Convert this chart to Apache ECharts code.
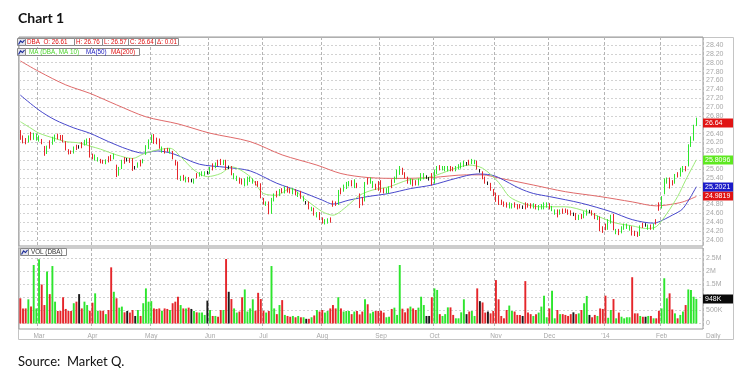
<!DOCTYPE html>
<html><head><meta charset="utf-8">
<script src="https://cdn.jsdelivr.net/npm/echarts@6/dist/echarts.min.js"></script>
<style>html,body{margin:0;padding:0;background:#fff}#c{width:750px;height:382px}</style>
</head><body><div id="c"></div>
<script>
// ---------------- DATA ----------------
const firstDay = '2013-02-20', lastDay = '2014-02-25';
const holidays = ['2013-03-29','2013-05-27','2013-07-04','2013-09-02','2013-11-28','2013-12-25','2014-01-01','2014-01-20','2014-02-17'];
const monthTickLabels = ['Mar','Apr','May','Jun','Jul','Aug','Sep','Oct','Nov','Dec',"'14",'Feb'];
const priceTicks = {min: 24.0, max: 28.4, step: 0.2};
const volumeTicks = {min: 0, max: 2500000, step: 500000};

// [open, close, low, high]
const candles = [
[26.44,26.30,26.26,26.48],[26.32,26.22,26.18,26.36],[26.26,26.20,26.16,26.30],[26.22,26.33,26.20,26.36],[26.40,26.28,26.25,26.44],
[26.30,26.38,26.26,26.42],[26.27,26.36,26.24,26.40],[26.26,26.33,26.22,26.36],[26.25,26.20,26.16,26.28],[26.08,25.95,25.90,26.12],
[25.97,26.10,25.94,26.13],[26.22,26.10,26.06,26.25],[26.18,26.30,26.15,26.33],[26.26,26.35,26.22,26.38],[26.36,26.30,26.27,26.40],
[26.34,26.28,26.25,26.37],[26.34,26.24,26.20,26.37],[26.20,26.05,26.02,26.23],[26.02,25.96,25.93,26.05],[25.99,25.97,25.94,26.02],
[25.98,26.08,25.95,26.11],[26.12,26.06,26.03,26.15],[26.10,26.10,26.06,26.14],[26.18,26.10,26.07,26.21],[26.16,26.22,26.13,26.26],
[26.18,26.26,26.15,26.29],[26.26,25.92,25.86,26.30],[25.92,25.85,25.82,25.95],[25.82,25.90,25.79,25.93],[25.80,25.84,25.77,25.87],
[25.80,25.76,25.73,25.83],[25.78,25.75,25.72,25.81],[25.74,25.79,25.71,25.82],[25.86,25.78,25.75,25.89],[25.88,25.82,25.78,25.92],
[25.85,25.92,25.82,25.95],[25.66,25.46,25.42,25.70],[25.48,25.62,25.45,25.65],[25.62,25.78,25.60,25.81],[25.84,25.76,25.72,25.87],
[25.81,25.81,25.77,25.85],[25.82,25.78,25.74,25.85],[25.82,25.60,25.56,25.85],[25.63,25.63,25.59,25.67],[25.66,25.72,25.63,25.75],
[25.78,25.70,25.66,25.81],[25.76,25.80,25.73,25.83],[25.95,26.10,25.92,26.14],[26.08,26.24,26.05,26.27],[26.22,26.34,26.19,26.38],
[26.36,26.20,26.17,26.39],[26.28,26.20,26.16,26.31],[26.26,26.10,26.06,26.29],[26.00,26.08,25.97,26.11],[26.04,25.98,25.95,26.07],
[26.05,26.02,25.99,26.08],[25.98,26.04,25.95,26.07],[25.98,25.86,25.82,26.01],[25.78,25.72,25.68,25.81],[25.74,25.40,25.36,25.77],
[25.36,25.42,25.33,25.45],[25.44,25.38,25.34,25.47],[25.33,25.40,25.30,25.43],[25.38,25.33,25.30,25.42],[25.34,25.34,25.30,25.38],
[25.30,25.36,25.27,25.39],[25.48,25.42,25.39,25.51],[25.46,25.50,25.43,25.53],[25.47,25.52,25.44,25.55],[25.48,25.52,25.45,25.55],
[25.52,25.52,25.48,25.56],[25.52,25.62,25.49,25.65],[25.70,25.60,25.57,25.73],[25.65,25.72,25.62,25.75],[25.78,25.70,25.67,25.81],
[25.80,25.72,25.69,25.83],[25.72,25.78,25.69,25.81],[25.78,25.62,25.58,25.81],[25.64,25.64,25.60,25.68],[25.64,25.50,25.46,25.67],
[25.40,25.48,25.37,25.51],[25.36,25.42,25.33,25.45],[25.38,25.30,25.27,25.41],[25.36,25.28,25.25,25.39],[25.24,25.36,25.21,25.39],
[25.26,25.40,25.23,25.43],[25.34,25.40,25.31,25.43],[25.30,25.36,25.27,25.39],[25.30,25.26,25.23,25.33],[25.30,25.24,25.20,25.33],
[25.24,24.98,24.94,25.28],[24.92,24.84,24.80,24.95],[24.80,24.84,24.77,24.87],[24.84,24.62,24.58,24.87],[24.62,24.92,24.59,24.95],
[24.90,25.02,24.87,25.05],[25.08,25.00,24.96,25.11],[25.02,25.12,24.99,25.15],[25.14,25.10,25.06,25.17],[25.08,25.18,25.05,25.21],
[25.18,25.10,25.07,25.21],[25.14,25.08,25.05,25.17],[25.06,25.14,25.03,25.17],[25.12,25.04,25.01,25.15],[25.00,25.06,24.97,25.09],
[25.08,24.96,24.93,25.11],[24.90,24.96,24.87,24.99],[24.84,24.84,24.80,24.88],[24.84,24.72,24.69,24.87],[24.68,24.72,24.65,24.75],
[24.70,24.58,24.55,24.73],[24.54,24.60,24.51,24.63],[24.60,24.48,24.45,24.63],[24.48,24.40,24.37,24.51],[24.38,24.44,24.35,24.47],
[24.40,24.46,24.37,24.49],[24.48,24.42,24.39,24.51],[24.86,24.78,24.75,24.89],[24.84,24.80,24.77,24.87],[24.82,25.10,24.79,25.13],
[25.14,25.06,25.03,25.17],[25.12,25.22,25.09,25.25],[25.18,25.28,25.15,25.31],[25.24,25.30,25.21,25.33],[25.32,25.24,25.21,25.35],
[25.20,25.34,25.17,25.37],[25.26,25.20,25.17,25.29],[25.02,24.84,24.72,25.05],[24.94,24.82,24.78,24.97],[24.90,25.28,24.87,25.31],
[25.38,25.28,25.25,25.41],[25.30,25.38,25.27,25.41],[25.20,25.30,25.17,25.33],[25.24,25.16,25.13,25.27],[25.30,25.14,25.11,25.33],
[25.32,25.10,25.07,25.35],[25.14,25.08,25.05,25.17],[25.08,25.14,25.05,25.17],[25.08,25.18,25.05,25.21],[25.34,25.20,25.17,25.37],
[25.32,25.40,25.29,25.43],[25.40,25.56,25.37,25.59],[25.50,25.64,25.47,25.67],[25.60,25.50,25.47,25.63],[25.50,25.42,25.39,25.53],
[25.40,25.30,25.27,25.43],[25.28,25.36,25.25,25.39],[25.34,25.24,25.21,25.37],[25.32,25.26,25.23,25.35],[25.26,25.36,25.23,25.39],
[25.36,25.48,25.33,25.51],[25.40,25.48,25.37,25.51],[25.42,25.42,25.38,25.46],[25.38,25.38,25.34,25.42],[25.48,25.26,25.23,25.51],
[25.30,25.56,25.27,25.59],[25.52,25.64,25.49,25.67],[25.66,25.60,25.57,25.69],[25.60,25.64,25.57,25.67],[25.58,25.64,25.55,25.67],
[25.58,25.64,25.55,25.67],[25.64,25.58,25.55,25.67],[25.62,25.58,25.55,25.65],[25.58,25.64,25.55,25.67],[25.62,25.68,25.59,25.71],
[25.64,25.72,25.61,25.75],[25.68,25.76,25.65,25.79],[25.72,25.72,25.68,25.76],[25.78,25.72,25.69,25.81],[25.74,25.80,25.71,25.83],
[25.74,25.78,25.71,25.81],[25.76,25.62,25.59,25.79],[25.56,25.56,25.52,25.60],[25.52,25.40,25.37,25.55],[25.40,25.30,25.27,25.43],
[25.28,25.28,25.24,25.32],[25.26,25.14,25.11,25.29],[25.12,25.02,24.99,25.15],[25.04,24.90,24.86,25.07],[24.98,24.82,24.79,25.01],
[24.88,24.82,24.79,24.91],[24.84,24.78,24.75,24.87],[24.82,24.76,24.73,24.85],[24.74,24.82,24.71,24.85],[24.74,24.80,24.71,24.83],
[24.82,24.76,24.73,24.85],[24.78,24.72,24.69,24.81],[24.78,24.74,24.71,24.81],[24.74,24.74,24.70,24.78],[24.82,24.72,24.69,24.85],
[24.80,24.76,24.73,24.83],[24.80,24.74,24.71,24.83],[24.74,24.80,24.71,24.83],[24.78,24.72,24.69,24.81],[24.70,24.76,24.67,24.79],
[24.72,24.78,24.69,24.81],[24.72,24.82,24.69,24.85],[24.76,24.82,24.73,24.85],[24.80,24.72,24.69,24.83],[24.68,24.74,24.65,24.77],
[24.60,24.66,24.57,24.69],[24.66,24.54,24.51,24.69],[24.60,24.66,24.57,24.69],[24.68,24.62,24.59,24.71],[24.68,24.64,24.61,24.71],
[24.66,24.60,24.57,24.69],[24.64,24.58,24.55,24.67],[24.58,24.58,24.54,24.62],[24.58,24.48,24.45,24.61],[24.48,24.54,24.45,24.57],
[24.56,24.50,24.47,24.59],[24.52,24.62,24.49,24.65],[24.58,24.66,24.55,24.69],[24.64,24.64,24.60,24.68],[24.64,24.58,24.55,24.67],
[24.58,24.50,24.47,24.61],[24.48,24.52,24.45,24.55],[24.50,24.24,24.20,24.53],[24.28,24.20,24.16,24.31],[24.34,24.26,24.22,24.37],
[24.26,24.44,24.23,24.47],[24.40,24.54,24.37,24.57],[24.56,24.26,24.22,24.59],[24.16,24.22,24.13,24.25],[24.22,24.14,24.11,24.25],
[24.18,24.28,24.15,24.31],[24.26,24.34,24.23,24.37],[24.28,24.34,24.25,24.37],[24.24,24.30,24.21,24.33],[24.28,24.14,24.10,24.31],
[24.18,24.12,24.09,24.21],[24.16,24.10,24.07,24.19],[24.12,24.30,24.09,24.33],[24.36,24.30,24.27,24.39],[24.34,24.34,24.30,24.38],
[24.26,24.32,24.23,24.35],[24.32,24.26,24.23,24.35],[24.26,24.34,24.23,24.37],[24.44,24.38,24.35,24.47],[24.82,24.70,24.66,24.85],
[24.74,24.96,24.71,24.99],[25.06,25.36,25.03,25.39],[25.30,25.38,25.27,25.41],[25.38,25.20,25.16,25.41],[25.32,25.26,25.23,25.35],
[25.30,25.46,25.27,25.49],[25.50,25.44,25.41,25.53],[25.46,25.60,25.43,25.63],[25.56,25.64,25.53,25.67],[25.64,25.58,25.55,25.67],
[25.70,26.12,25.66,26.16],[26.14,26.30,26.10,26.34],[26.28,26.56,26.24,26.60],[26.61,26.64,26.57,26.76]
];

// daily volume (shares)
const volumes = [
970000,580000,580000,930000,650000,2250000,580000,2470000,1500000,710000,
2000000,1130000,2210000,840000,480000,480000,1010000,560000,480000,480000,
780000,840000,1130000,580000,840000,710000,490000,800000,1160000,490000,
490000,490000,360000,520000,2160000,1220000,970000,610000,650000,430000,
480000,420000,520000,290000,520000,290000,780000,1350000,840000,860000,
580000,560000,580000,490000,580000,560000,520000,780000,840000,1030000,
710000,580000,580000,610000,560000,480000,430000,420000,420000,330000,
880000,520000,290000,290000,260000,520000,520000,2480000,1220000,940000,
580000,420000,460000,1010000,1310000,460000,580000,930000,490000,1180000,
940000,490000,420000,480000,2210000,580000,360000,710000,900000,330000,
290000,260000,290000,240000,290000,240000,240000,180000,180000,240000,
310000,520000,460000,520000,420000,480000,580000,710000,580000,1010000,
580000,460000,480000,480000,360000,460000,480000,350000,460000,930000,
740000,390000,450000,480000,480000,490000,420000,240000,260000,560000,
610000,330000,2250000,570000,430000,580000,650000,580000,520000,610000,
1030000,710000,290000,290000,1010000,1350000,1290000,360000,290000,360000,
620000,620000,330000,200000,200000,430000,930000,360000,460000,480000,
290000,1350000,860000,810000,420000,460000,390000,480000,1670000,930000,
290000,200000,520000,690000,480000,460000,330000,330000,290000,1630000,
420000,360000,290000,360000,420000,650000,1070000,240000,580000,1260000,
200000,520000,360000,360000,330000,290000,360000,430000,360000,390000,
520000,780000,1060000,330000,240000,330000,290000,580000,560000,1070000,
220000,520000,940000,200000,420000,260000,200000,240000,240000,1780000,
390000,390000,290000,260000,260000,290000,290000,200000,200000,490000,
580000,1740000,970000,1160000,540000,390000,200000,330000,460000,710000,
1310000,1290000,1030000,948000
];

// moving averages: [day index, value]
const ma10 = [[0,26.67],[4,26.52],[7,26.41],[13,26.29],[17,26.22],[22,26.19],[26,26.12],[30,26.05],[36,25.92],[42,25.84],[46,25.94],[51,26.03],[56,26.07],[60,25.88],[65,25.58],[70,25.43],[75,25.50],[79,25.65],[86,25.43],[91,25.05],[96,25.01],[101,25.16],[107,24.90],[113,24.64],[117,24.56],[122,24.75],[127,25.01],[132,25.13],[138,25.20],[145,25.35],[151,25.39],[156,25.47],[163,25.62],[168,25.69],[173,25.62],[179,25.30],[183,24.98],[188,24.83],[194,24.75],[204,24.75],[212,24.64],[218,24.49],[223,24.38],[229,24.32],[234,24.26],[238,24.30],[242,24.60],[246,24.98],[249,25.35],[253,25.8096]];
const ma50 = [[0,27.27],[7,26.93],[13,26.71],[20,26.53],[26,26.41],[33,26.22],[40,26.05],[46,25.96],[51,26.01],[57,25.95],[67,25.71],[77,25.64],[86,25.56],[96,25.28],[105,25.09],[113,24.90],[117,24.81],[123,24.90],[130,24.98],[138,25.05],[146,25.16],[154,25.24],[163,25.39],[171,25.49],[176,25.47],[179,25.41],[187,25.16],[192,25.05],[198,24.98],[210,24.83],[221,24.64],[229,24.46],[237,24.38],[239,24.41],[244,24.56],[248,24.71],[253,25.2021]];
const ma200 = [[0,28.04],[7,27.80],[17,27.50],[26,27.31],[36,27.05],[47,26.78],[59,26.62],[71,26.41],[86,26.22],[98,25.92],[111,25.69],[120,25.50],[130,25.41],[142,25.39],[154,25.41],[167,25.47],[173,25.47],[179,25.40],[192,25.24],[204,25.09],[217,24.98],[229,24.86],[238,24.77],[242,24.79],[248,24.86],[253,24.9819]];
const legendDelta = '0.01';

// ---------------- BUILD ----------------
const dates = [];
for (let d = new Date(firstDay + 'T00:00:00Z'); d <= new Date(lastDay + 'T00:00:00Z'); d.setUTCDate(d.getUTCDate() + 1)) {
  const dow = d.getUTCDay();
  if (dow === 0 || dow === 6) continue;
  const s = d.toISOString().slice(0, 10);
  if (holidays.indexOf(s) >= 0) continue;
  dates.push(s);
}
const monthStart = {};
let mk = 0;
for (let i = 1; i < dates.length; i++) {
  if (dates[i].slice(0, 7) !== dates[i - 1].slice(0, 7)) monthStart[i] = monthTickLabels[mk++];
}
const isMonthStart = (i) => Object.prototype.hasOwnProperty.call(monthStart, i);

const UP = '#2ee52e', DOWN = '#e5262b', FLAT = '#1a1a1a';
const volData = volumes.map((v, i) => {
  const c = candles[i];
  const col = c[1] > c[0] ? UP : (c[1] < c[0] ? DOWN : FLAT);
  return {value: v, itemStyle: {color: col}};
});
const last = candles[candles.length - 1];
const lastVol = volumes[volumes.length - 1];

const FONT = 'Liberation Sans';
const L = 19, W = 684;

function frameX(gi, labels) {
  return {
    type: 'category', gridIndex: gi, data: dates, boundaryGap: true,
    axisLine: {show: false}, axisTick: {show: false},
    axisLabel: labels ? {show: true, interval: (i) => isMonthStart(i), formatter: (v, i) => monthStart[i] || '',
      fontSize: 6.5, color: '#a8a8a8', margin: 4, fontFamily: FONT} : {show: false},
    splitLine: {show: true, interval: (i) => isMonthStart(i), lineStyle: {color: '#b4b4b4', type: [3, 2], width: 1}}
  };
}

const txt = (x, y, s, color, size, extra) => Object.assign({type: 'text', x: x, y: y, silent: true, z: 100,
  style: Object.assign({text: s, fill: color, fontSize: size || 7, fontFamily: FONT, verticalAlign: 'middle'}, extra || {})});
const box = (x, y, w, h, fill, stroke) => ({type: 'rect', silent: true, z: 99, shape: {x: x, y: y, width: w, height: h},
  style: {fill: fill || '#fff', stroke: stroke || '#8a8a8a', lineWidth: 1}});
const icon = (x, y) => ([
  box(x, y, 8, 7, '#e4e4ec', '#8a8a8a'),
  {type: 'polyline', silent: true, z: 100, shape: {points: [[x + 1, y + 6], [x + 3, y + 2.5], [x + 5, y + 4], [x + 7, y + 1.5]]},
   style: {stroke: '#1f2f9a', lineWidth: 1.2, fill: 'none'}}
]);

const row1 = ['DBA  O: ' + last[0].toFixed(2), 'H: ' + last[3].toFixed(2), 'L: ' + last[2].toFixed(2), 'C: ' + last[1].toFixed(2), 'Δ: ' + legendDelta];
const row1Edges = [25.5, 74.5, 102.5, 128.5, 155.5, 178.5];
const graphics = [
  Object.assign(box(18.5, 37.5, 715, 302, 'none', '#c4c4c4'), {z: -10}),
  ...icon(17.5, 38.5),
  ...icon(17.5, 48.5),
  ...icon(20.5, 248.5),
];
for (let i = 0; i < row1.length; i++) {
  graphics.push(box(row1Edges[i], 38.5, row1Edges[i + 1] - row1Edges[i], 7));
  graphics.push(txt(row1Edges[i] + 1.5, 42.5, row1[i], '#e01010', 6.3));
}
graphics.push(box(25.5, 48.5, 114, 7));
graphics.push(txt(29, 52.5, 'MA (DBA, MA 10)', '#4cd42c', 6.3));
graphics.push(txt(86, 52.5, 'MA(50)', '#2020c0', 6.3));
graphics.push(txt(111, 52.5, 'MA(200)', '#e01010', 6.3));
graphics.push(box(28.5, 248.5, 38, 7));
graphics.push(txt(31, 252.5, 'VOL (DBA)', '#333', 6.3));
graphics.push(txt(706, 336.5, 'Daily', '#a8a8a8', 6.5));
graphics.push(txt(18, 18, 'Chart 1', '#111', 14, {fontFamily: 'Lato', fontWeight: 'bold'}));
graphics.push(txt(18, 362, 'Source:  Market Q.', '#111', 13, {fontFamily: 'Lato'}));

const option = {
  animation: false,
  backgroundColor: '#fff',
  textStyle: {fontFamily: FONT},
  grid: [
    {left: L, width: W, top: 37, height: 209, show: true, borderColor: '#9a9a9a', borderWidth: 1, backgroundColor: 'transparent', outerBoundsMode: 'none'},
    {left: L, width: W, top: 45, height: 195, outerBoundsMode: 'none'},
    {left: L, width: W, top: 248, height: 81, show: true, borderColor: '#9a9a9a', borderWidth: 1, backgroundColor: 'transparent', outerBoundsMode: 'none'},
    {left: L, width: W, top: 258.5, height: 65, outerBoundsMode: 'none'}
  ],
  xAxis: [
    frameX(0, false),
    {type: 'category', gridIndex: 1, data: dates, boundaryGap: true, show: false},
    frameX(2, true),
    {type: 'category', gridIndex: 3, data: dates, boundaryGap: true, show: false}
  ],
  yAxis: [
    {type: 'value', gridIndex: 0, show: false, splitLine: {show: false}},
    {type: 'value', gridIndex: 1, position: 'right', min: priceTicks.min, max: priceTicks.max, interval: priceTicks.step,
     axisLine: {show: false}, axisTick: {show: false},
     axisLabel: {formatter: (v) => v.toFixed(2), fontSize: 7, color: '#a8a8a8', margin: 3, fontFamily: FONT},
     splitLine: {show: true, lineStyle: {color: '#d2d2d2', type: [2, 2], width: 1}}},
    {type: 'value', gridIndex: 2, show: false, splitLine: {show: false}},
    {type: 'value', gridIndex: 3, position: 'right', min: volumeTicks.min, max: volumeTicks.max, interval: volumeTicks.step,
     axisLine: {show: false}, axisTick: {show: false},
     axisLabel: {formatter: (v) => v === 0 ? '0' : (v >= 1e6 ? (v / 1e6) + 'M' : (v / 1e3) + 'K'), fontSize: 7, color: '#a8a8a8', margin: 3, fontFamily: FONT},
     splitLine: {show: true, lineStyle: {color: '#d2d2d2', type: [2, 2], width: 1}}}
  ],
  series: [
    {type: 'line', name: 'MA200', xAxisIndex: 1, yAxisIndex: 1, data: ma200, showSymbol: false, smooth: 0.3,
     lineStyle: {color: '#e06a6a', width: 1}, z: 3},
    {type: 'line', name: 'MA50', xAxisIndex: 1, yAxisIndex: 1, data: ma50, showSymbol: false, smooth: 0.3,
     lineStyle: {color: '#4848cc', width: 1}, z: 3},
    {type: 'line', name: 'MA10', xAxisIndex: 1, yAxisIndex: 1, data: ma10, showSymbol: false, smooth: 0.3,
     lineStyle: {color: '#9ceb78', width: 1}, z: 3},
    {type: 'candlestick', name: 'DBA', xAxisIndex: 1, yAxisIndex: 1, data: candles, barWidth: 1.3, z: 4,
     itemStyle: {color: UP, color0: DOWN, borderColor: UP, borderColor0: DOWN, borderColorDoji: FLAT, borderWidth: 1}},
    {type: 'bar', name: 'VOL', xAxisIndex: 3, yAxisIndex: 3, data: volData, barWidth: '72%'}
  ],
  graphic: graphics
};
const chart = echarts.init(document.getElementById('c'), null, {renderer: 'canvas'});
chart.setOption(option);

// last-value tags on the right axis, placed through the axes' own scales
const tags = [
  {axis: 1, value: ma200[ma200.length - 1][1], text: ma200[ma200.length - 1][1].toFixed(4), bg: '#e01414'},
  {axis: 1, value: ma50[ma50.length - 1][1], text: ma50[ma50.length - 1][1].toFixed(4), bg: '#1c1cc8'},
  {axis: 1, value: ma10[ma10.length - 1][1], text: ma10[ma10.length - 1][1].toFixed(4), bg: '#5ee820'},
  {axis: 1, value: last[1], text: last[1].toFixed(2), bg: '#e01414'},
  {axis: 3, value: lastVol, text: Math.round(lastVol / 1000) + 'K', bg: '#0a0a0a'}
];
const tagGraphics = [];
tags.forEach((t) => {
  const y = Math.round(chart.convertToPixel({yAxisIndex: t.axis}, t.value));
  const x0 = L + W;
  tagGraphics.push({type: 'rect', silent: true, z: 120, shape: {x: x0, y: y - 4.5, width: 30, height: 9}, style: {fill: t.bg}});
  tagGraphics.push({type: 'text', silent: true, z: 121, x: x0 + 2, y: y, style: {text: t.text, fill: '#fff', fontSize: 7, fontFamily: FONT, verticalAlign: 'middle'}});
});
chart.setOption({graphic: graphics.concat(tagGraphics)});
</script>
</body></html>
